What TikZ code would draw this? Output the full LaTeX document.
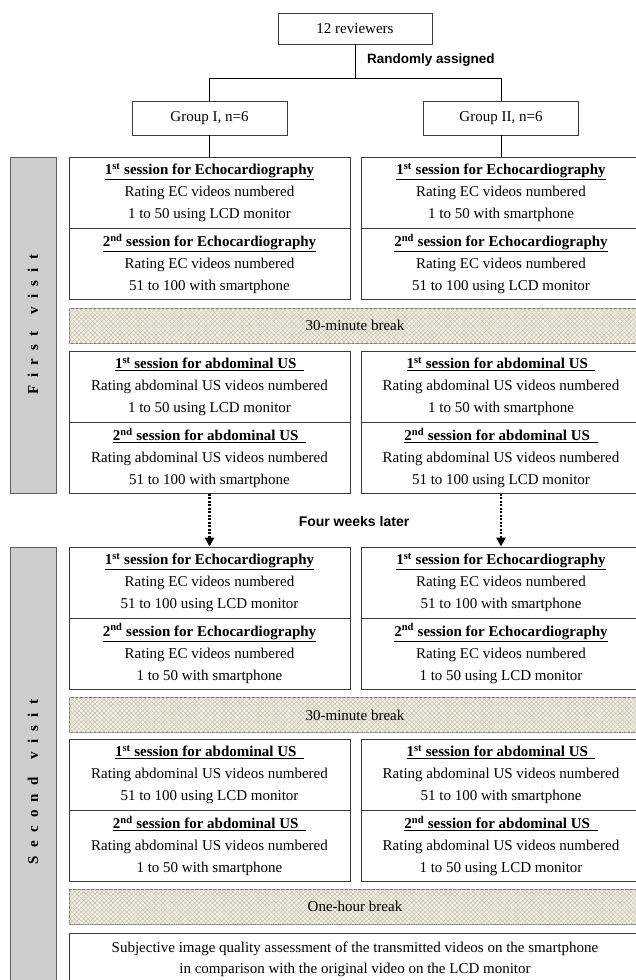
\documentclass[tikz,border=0pt]{standalone}
\usepackage{fontspec}
\setmainfont{Liberation Serif}
\newfontfamily\labsans{Liberation Sans}
\usetikzlibrary{patterns.meta,arrows.meta}
\definecolor{boxc}{RGB}{60,60,60}
\definecolor{barfill}{RGB}{206,206,206}
\definecolor{barline}{RGB}{95,95,95}
\definecolor{brkfill}{RGB}{242,240,230}
\definecolor{brkpat}{RGB}{200,194,170}
\definecolor{brkline}{RGB}{120,120,120}
\newcommand\vgap{\hspace{0.55em}}
\newcommand\hdx[3]{\underline{\textbf{#1}\textsuperscript{\textbf{#2}}\textbf{\ #3}}}
\begin{document}
\begin{tikzpicture}[x=1pt,y=-1pt,
  every node/.style={font=\fontsize{15}{22}\selectfont, text=black, inner sep=0pt},
  plain/.style={draw=boxc, line width=0.9pt},
  sess/.style={plain, minimum width=281pt, minimum height=71pt, align=center},
  sessr/.style={plain, minimum width=280pt, minimum height=71pt, align=center},
  grp/.style={plain, minimum width=155pt, minimum height=34pt},
  brk/.style={draw=brkline, line width=0.9pt, fill=brkfill, minimum width=572pt, minimum height=35pt,
    postaction={pattern={Lines[angle=45,distance=3.2pt,line width=0.5pt]}, pattern color=brkpat},
    postaction={pattern={Lines[angle=-45,distance=3.2pt,line width=0.5pt]}, pattern color=brkpat}},
  visit/.style={draw=barline, line width=0.9pt, fill=barfill, rotate=90,
    font=\fontsize{15}{18}\selectfont\bfseries},
  lab/.style={font=\labsans\bfseries\fontsize{13.5}{16}\selectfont},
  conn/.style={draw=black, line width=1pt},
  dotarrow/.style={draw=black, line width=2.3pt, dash pattern=on 2pt off 1.5pt,
    -{Triangle[width=9pt,length=9pt]}, shorten >=0pt}
]
\path[use as bounding box] (0,0) rectangle (636,980);
\clip (0,0) rectangle (636,980);

% top
\node[plain, minimum width=154pt, minimum height=31pt] (rev) at (355,28.5) {12 reviewers};
\node[lab, anchor=west] (rand) at (367,60) {Randomly assigned};
\node[grp] (g1) at (209.5,118) {Group I, n=6};
\node[grp] (g2) at (501,118) {Group II, n=6};
\coordinate (split) at (355,78);
\draw[conn] (rev.south) -- (split);
\draw[conn] (g1.north) -- (g1.north |- split) -- (g2.north |- split) -- (g2.north);

% visit bars
\node[visit, minimum width=336pt, minimum height=46pt] (v1) at (33,325)
  {F\vgap i\vgap r\vgap s\vgap t\hspace{1.1em}v\vgap i\vgap s\vgap i\vgap t};
\node[visit, minimum width=470pt, minimum height=46pt] (v2) at (33,782)
  {S\vgap e\vgap c\vgap o\vgap n\vgap d\hspace{1.2em}v\vgap i\vgap s\vgap i\vgap t};

% first visit
\node[sess] (L1a) at (209.5,193) {\hdx{1}{st}{session for Echocardiography}\\Rating EC videos numbered\\1 to 50 using LCD monitor};
\node[sess] (L1b) at (209.5,264) {\hdx{2}{nd}{session for Echocardiography}\\Rating EC videos numbered\\51 to 100 with smartphone};
\node[sessr] (R1a) at (501,193) {\hdx{1}{st}{session for Echocardiography}\\Rating EC videos numbered\\1 to 50 with smartphone};
\node[sessr] (R1b) at (501,264) {\hdx{2}{nd}{session for Echocardiography}\\Rating EC videos numbered\\51 to 100 using LCD monitor};
\draw[conn] (g1.south) -- (L1a.north);
\draw[conn] (g2.south) -- (R1a.north);

\node[brk] (b1) at (355,325.5) {30-minute break};

\node[sess] (L2a) at (209.5,387) {\hdx{1}{st}{session for abdominal US\ \ }\\Rating abdominal US videos numbered\\1 to 50 using LCD monitor};
\node[sess] (L2b) at (209.5,458) {\hdx{2}{nd}{session for abdominal US\ \ }\\Rating abdominal US videos numbered\\51 to 100 with smartphone};
\node[sessr] (R2a) at (501,387) {\hdx{1}{st}{session for abdominal US\ \ }\\Rating abdominal US videos numbered\\1 to 50 with smartphone};
\node[sessr] (R2b) at (501,458) {\hdx{2}{nd}{session for abdominal US\ \ }\\Rating abdominal US videos numbered\\51 to 100 using LCD monitor};

% four weeks
\node[lab, font=\labsans\bfseries\fontsize{14}{16}\selectfont] (four) at (354,521) {Four weeks later};

% second visit
\node[sess] (L3a) at (209.5,582.5) {\hdx{1}{st}{session for Echocardiography}\\Rating EC videos numbered\\51 to 100 using LCD monitor};
\node[sess] (L3b) at (209.5,653.5) {\hdx{2}{nd}{session for Echocardiography}\\Rating EC videos numbered\\1 to 50 with smartphone};
\node[sessr] (R3a) at (501,582.5) {\hdx{1}{st}{session for Echocardiography}\\Rating EC videos numbered\\51 to 100 with smartphone};
\node[sessr] (R3b) at (501,653.5) {\hdx{2}{nd}{session for Echocardiography}\\Rating EC videos numbered\\1 to 50 using LCD monitor};
\draw[dotarrow] (L2b.south) -- (L3a.north);
\draw[dotarrow] (R2b.south) -- (R3a.north);

\node[brk] (b2) at (355,715) {30-minute break};

\node[sess] (L4a) at (209.5,775) {\hdx{1}{st}{session for abdominal US\ \ }\\Rating abdominal US videos numbered\\51 to 100 using LCD monitor};
\node[sess] (L4b) at (209.5,846) {\hdx{2}{nd}{session for abdominal US\ \ }\\Rating abdominal US videos numbered\\1 to 50 with smartphone};
\node[sessr] (R4a) at (501,775) {\hdx{1}{st}{session for abdominal US\ \ }\\Rating abdominal US videos numbered\\51 to 100 with smartphone};
\node[sessr] (R4b) at (501,846) {\hdx{2}{nd}{session for abdominal US\ \ }\\Rating abdominal US videos numbered\\1 to 50 using LCD monitor};

\node[brk] (b3) at (355,906.5) {One-hour break};

\node[plain, minimum width=572pt, minimum height=52pt, align=center,
  font=\fontsize{15}{21}\selectfont] (fin) at (355,959)
  {Subjective image quality assessment of the transmitted videos on the smartphone\\in comparison with the original video on the LCD monitor};
\end{tikzpicture}
\end{document}
